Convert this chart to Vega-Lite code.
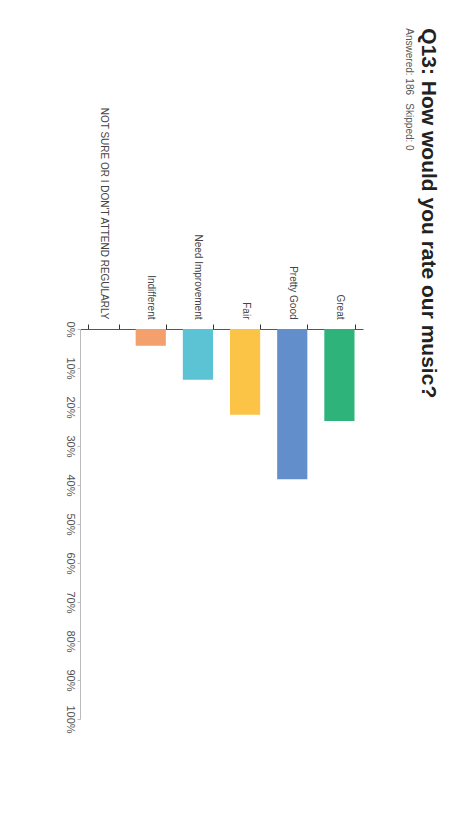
{
  "$schema": "https://vega.github.io/schema/vega-lite/v6.json",
  "autosize": "none",
  "width": 283,
  "height": 390,
  "padding": {"left": 80, "top": 329, "right": 108, "bottom": 116},
  "background": "white",
  "title": {
    "text": "Q13: How would you rate our music?",
    "subtitle": "Answered: 186\u00a0\u00a0\u00a0Skipped: 0",
    "orient": "right",
    "anchor": "start",
    "angle": 90,
    "offset": 41,
    "dx": -78,
    "font": "Liberation Sans",
    "fontSize": 21,
    "fontWeight": "bold",
    "color": "#222222",
    "subtitleFont": "Liberation Sans",
    "subtitleFontSize": 10,
    "subtitleColor": "#555555",
    "subtitlePadding": 4
  },
  "data": {
    "values": [
      {"answer": "NOT SURE OR I DON'T ATTEND REGULARLY", "share": 0.0},
      {"answer": "Indifferent", "share": 0.043},
      {"answer": "Need Improvement", "share": 0.13},
      {"answer": "Fair", "share": 0.22},
      {"answer": "Pretty Good", "share": 0.385},
      {"answer": "Great", "share": 0.236}
    ]
  },
  "mark": {"type": "bar"},
  "encoding": {
    "x": {
      "field": "answer",
      "type": "nominal",
      "sort": null,
      "scale": {"paddingInner": 0.36, "paddingOuter": 0.18},
      "axis": {
        "orient": "top",
        "title": null,
        "labelAngle": 90,
        "labelAlign": "right",
        "labelBaseline": "middle",
        "labelFont": "Liberation Sans",
        "labelFontSize": 10,
        "labelColor": "#444444",
        "labelPadding": 5,
        "labelLimit": 300,
        "tickBand": "extent",
        "tickSize": 5,
        "tickColor": "#333333",
        "domainColor": "#555555"
      }
    },
    "y": {
      "field": "share",
      "type": "quantitative",
      "scale": {"domain": [0, 1], "reverse": true},
      "axis": {
        "orient": "left",
        "title": null,
        "grid": false,
        "format": ".0%",
        "values": [0, 0.1, 0.2, 0.3, 0.4, 0.5, 0.6, 0.7, 0.8, 0.9, 1],
        "labelAngle": 90,
        "labelAlign": "center",
        "labelBaseline": "top",
        "labelFont": "Liberation Sans",
        "labelFontSize": 11,
        "labelColor": "#555555",
        "labelPadding": 2,
        "tickSize": 3,
        "tickColor": "#bbbbbb",
        "domainColor": "#bbbbbb"
      }
    },
    "color": {
      "field": "answer",
      "type": "nominal",
      "legend": null,
      "scale": {
        "domain": ["NOT SURE OR I DON'T ATTEND REGULARLY", "Indifferent", "Need Improvement", "Fair", "Pretty Good", "Great"],
        "range": ["#9e9e9e", "#f4a06c", "#5cc3d4", "#fbc446", "#628fcc", "#2eb37b"]
      }
    }
  },
  "config": {"view": {"stroke": null}}
}
